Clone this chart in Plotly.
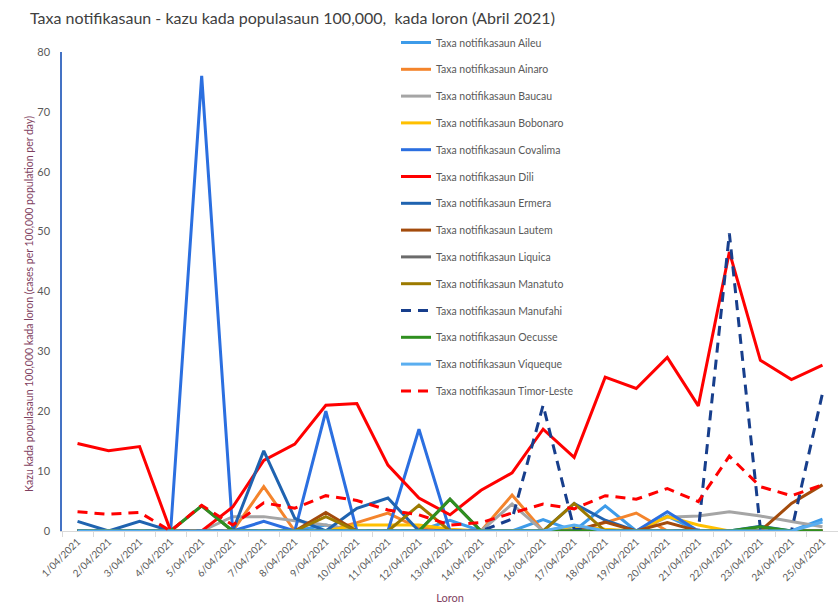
import plotly.graph_objects as go

days = ["1/04/2021", "2/04/2021", "3/04/2021", "4/04/2021", "5/04/2021",
        "6/04/2021", "7/04/2021", "8/04/2021", "9/04/2021", "10/04/2021",
        "11/04/2021", "12/04/2021", "13/04/2021", "14/04/2021", "15/04/2021",
        "16/04/2021", "17/04/2021", "18/04/2021", "19/04/2021", "20/04/2021",
        "21/04/2021", "22/04/2021", "23/04/2021", "24/04/2021", "25/04/2021"]

aileu = [0, 0, 0, 0, 0, 0, 0, 0, 1.0, 0, 0, 0, 1.8, 0, 0, 1.9, 0, 4.2, 0, 2.5, 0, 0, 0, 0, 2.0]
ainaro = [0, 0, 0, 0, 0, 0, 7.4, 0, 0, 1.4, 3.0, 0.5, 0, 0, 6.0, 0, 0, 1.4, 3.0, 0, 0, 0, 0, 0, 0]
baucau = [0, 0, 0, 0, 0, 2.4, 2.4, 1.7, 1.0, 0, 0, 0, 0, 0, 4.5, 0, 0, 0, 0, 2.3, 2.5, 3.2, 2.5, 1.6, 0.7]
bobonaro = [0, 0, 0, 0, 0, 0, 0, 0, 0, 1.0, 1.0, 1.0, 0.3, 0, 0, 0, 0.8, 0.3, 0, 2.4, 1.0, 0, 0, 0, 0]
covalima = [0, 0, 0, 0, 76, 0, 1.6, 0, 20, 0, 0, 17, 0, 0, 0, 0, 0, 0, 0, 3.2, 0, 0, 0, 0, 0]
dili = [14.6, 13.4, 14.1, 0, 0, 4.0, 11.8, 14.5, 21.0, 21.3, 11.0, 5.5, 2.7, 6.8, 9.7,
        17.0, 12.3, 25.7, 23.8, 29.0, 20.9, 46.6, 28.5, 25.3, 27.7]
ermera = [1.6, 0, 1.6, 0, 0, 0, 13.4, 2.1, 0, 3.8, 5.5, 0, 0, 0, 0, 0, 4.6, 1.8, 0, 0, 0, 0, 0.8, 0, 0]
lautem = [0, 0, 0, 0, 0, 0, 0, 0, 3.1, 0, 0, 0, 0, 0, 0, 0, 0, 1.5, 0, 1.4, 0, 0, 0, 4.6, 7.7]
liquica = [0, 0, 0, 0, 4.2, 0, 0, 0, 0, 0, 0, 0, 5.3, 0, 0, 0, 0, 0, 0, 0, 0, 0, 0, 0, 0]
manatuto = [0, 0, 0, 0, 0, 0, 0, 0, 2.4, 0, 0, 4.3, 0, 0, 0, 0, 4.6, 0, 0, 0, 0, 0, 0, 0, 0]
manufahi = [0, 0, 0, 0, 0, 0, 0, 0, 0, 0, 0, 0, 0, 0, 2.0, 21.0, 0.3, 0, 0, 0, 0, 49.7, 0.3, 0, 23.0]
oecusse = [0, 0, 0, 0, 4.2, 0, 0, 0, 0, 0, 0, 0, 5.3, 0, 0, 0, 0, 0, 0, 0, 0, 0, 0.7, 0, 0]
viqueque = [0, 0, 0, 0, 0, 0, 0, 0, 0, 0, 0, 0, 0, 0, 0, 0, 1.0, 0, 0, 0, 0, 0, 0, 0, 1.5]
timor_leste = [3.2, 2.8, 3.1, 0, 4.3, 1.0, 4.7, 3.8, 5.9, 5.1, 3.5, 2.7, 1.0, 1.4, 3.0,
               4.5, 3.7, 5.9, 5.3, 7.1, 4.9, 12.5, 7.4, 5.9, 7.7]

series = [
    ("Taxa notifikasaun Aileu", aileu, "#3D9BE9", "solid"),
    ("Taxa notifikasaun Ainaro", ainaro, "#F4842B", "solid"),
    ("Taxa notifikasaun Baucau", baucau, "#A5A5A5", "solid"),
    ("Taxa notifikasaun Bobonaro", bobonaro, "#FFC000", "solid"),
    ("Taxa notifikasaun Covalima", covalima, "#2B6FE0", "solid"),
    ("Taxa notifikasaun Dili", dili, "#FF0000", "solid"),
    ("Taxa notifikasaun Ermera", ermera, "#1F63B0", "solid"),
    ("Taxa notifikasaun Lautem", lautem, "#A34B0C", "solid"),
    ("Taxa notifikasaun Liquica", liquica, "#6B6B6B", "solid"),
    ("Taxa notifikasaun Manatuto", manatuto, "#9C7A00", "solid"),
    ("Taxa notifikasaun Manufahi", manufahi, "#173E8C", "10px,7px"),
    ("Taxa notifikasaun Oecusse", oecusse, "#2F8F1F", "solid"),
    ("Taxa notifikasaun Viqueque", viqueque, "#5AAEF0", "solid"),
    ("Taxa notifikasaun Timor-Leste", timor_leste, "#FF0000", "10px,7px"),
]

fig = go.Figure()
for i, (name, vals, color, dash) in enumerate(series):
    fig.add_trace(go.Scatter(
        x=days, y=vals, name=name, mode="lines",
        line=dict(color=color, width=3, dash=dash),
        legendgroup=f"g{i}",
    ))

fig.update_layout(
    width=838, height=614,
    margin=dict(l=62, r=0, t=52, b=83),
    paper_bgcolor="white", plot_bgcolor="white",
    font=dict(family="Lato, Open Sans, sans-serif", color="#595959"),
    title=dict(text="Taxa notifikasaun - kazu kada populasaun 100,000,  kada loron (Abril 2021)",
               x=30 / 838, xanchor="left", y=1 - 18 / 614, yanchor="middle",
               font=dict(size=16, color="#404040")),
    showlegend=True,
    legend=dict(x=(396 - 62) / 776, xanchor="left", y=1 + 24 / 479, yanchor="top",
                bgcolor="rgba(0,0,0,0)", font=dict(size=10.5, color="#595959"),
                tracegroupgap=7.8, traceorder="grouped", maxheight=1000),
    xaxis=dict(type="category", range=[-0.5, 24.5], tickangle=-45,
               tickfont=dict(size=10, color="#595959"),
               showline=True, linecolor="#D9D9D9", linewidth=1,
               ticks="outside", tickson="boundaries", ticklen=5, tickcolor="#D9D9D9",
               showgrid=False, zeroline=False,
               title=dict(text="Loron", font=dict(size=11, color="#7F3F5F"), standoff=12)),
    yaxis=dict(range=[0, 80], dtick=10, tickfont=dict(size=11, color="#595959"),
               showline=True, linecolor="#4472C4", linewidth=1.5,
               showgrid=False, zeroline=False, ticks="", ticklabelstandoff=8),
    annotations=[dict(
        text="Kazu kada populasaun 100,000 kada loron (cases per 100,000 population per day)",
        xref="paper", yref="paper", x=(29 - 62) / 776, y=(531 - 304) / 479,
        xanchor="center", yanchor="middle", textangle=-90, showarrow=False,
        font=dict(size=10.5, color="#7F3F5F"))],
)

fig.write_html("out.html", config={"displayModeBar": False},
               post_script="document.body.style.margin='0';")
